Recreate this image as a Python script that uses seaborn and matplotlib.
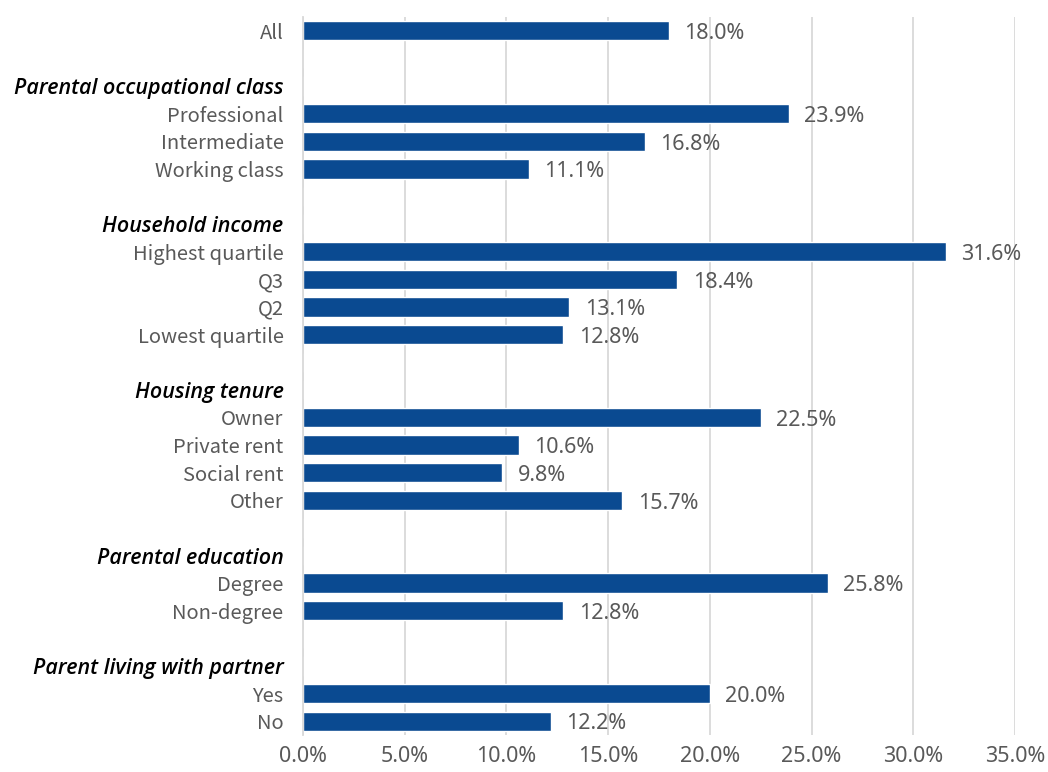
import matplotlib
import matplotlib.pyplot as plt
import pandas as pd
import seaborn as sns
from matplotlib.ticker import PercentFormatter

matplotlib.use('Agg')

# headers and their items, top to bottom
groups = ["Parental occupational class", "Household income", "Housing tenure",
          "Parental education", "Parent living with partner"]
items = [
    ["Professional", "Intermediate", "Working class"],
    ["Highest quartile", "Q3", "Q2", "Lowest quartile"],
    ["Owner", "Private rent", "Social rent", "Other"],
    ["Degree", "Non-degree"],
    ["Yes", "No"],
]
values = [
    [23.9, 16.8, 11.1],
    [31.6, 18.4, 13.1, 12.8],
    [22.5, 10.6, 9.8, 15.7],
    [25.8, 12.8],
    [20.0, 12.2],
]
all_value = 18.0

# build the rows: All, blank, header, items, blank, header, ...
rows, vals, kinds = ["All"], [all_value], ["item"]
for i, (g, its, vs) in enumerate(zip(groups, items, values)):
    rows.append(f"_blank{i}"); vals.append(0.0); kinds.append("blank")
    rows.append(g); vals.append(0.0); kinds.append("header")
    rows += its; vals += vs; kinds += ["item"] * len(its)
df = pd.DataFrame({"row": rows, "value": vals, "kind": kinds})

sns.set_style("white")
plt.rcParams['font.family'] = ['Noto Sans CJK JP', 'DejaVu Sans']

fig = plt.figure(figsize=(10.48, 7.72), dpi=100)
ax = fig.add_axes([303 / 1048, 37 / 772, 712 / 1048, 718 / 772])

bar_color = "#0A4A91"
grey = "#595959"
fs = 14.5
num_font = ["Noto Sans", "DejaVu Sans"]
num_fs = 15.5
sns.barplot(data=df, y="row", x="value", order=rows, color=bar_color,
            width=0.7, saturation=1, ax=ax, orient="h")

ax.set_xlim(0, 35)
ax.set_ylim(len(rows) - 0.5, -0.5)
ax.set_xticks([0, 5, 10, 15, 20, 25, 30, 35])
ax.xaxis.set_major_formatter(PercentFormatter(decimals=1))
ax.grid(axis="x", color="#D9D9D9", linewidth=1.3)
ax.set_axisbelow(True)
for s in ["top", "right", "bottom"]:
    ax.spines[s].set_visible(False)
ax.spines["left"].set_color("#D9D9D9")
ax.spines["left"].set_linewidth(1.3)
ax.tick_params(axis="both", length=0, labelsize=fs, colors=grey)
ax.tick_params(axis="x", pad=8)
ax.tick_params(axis="y", pad=14)
ax.set_xlabel("")
ax.set_ylabel("")
for lab in ax.get_xticklabels():
    lab.set_family(num_font)
    lab.set_fontsize(num_fs)

labels = []
for r, k in zip(rows, kinds):
    labels.append("" if k == "blank" else r)
ax.set_yticks(range(len(rows)))
ax.set_yticklabels(labels)
for lab, k in zip(ax.get_yticklabels(), kinds):
    if k == "header":
        lab.set_color("black")
        lab.set_family(["Open Sans", "DejaVu Sans"])
        lab.set_fontstyle("italic")
        lab.set_fontweight("semibold")
        lab.set_fontsize(15.5)

for i, (v, k) in enumerate(zip(vals, kinds)):
    if k == "item":
        ax.annotate(f"{v:.1f}%", (v, i), xytext=(11, -2), textcoords="offset points",
                    va="center", ha="left", fontsize=num_fs, color=grey,
                    family=num_font)

fig.savefig("out.png", dpi=100, facecolor="white")
